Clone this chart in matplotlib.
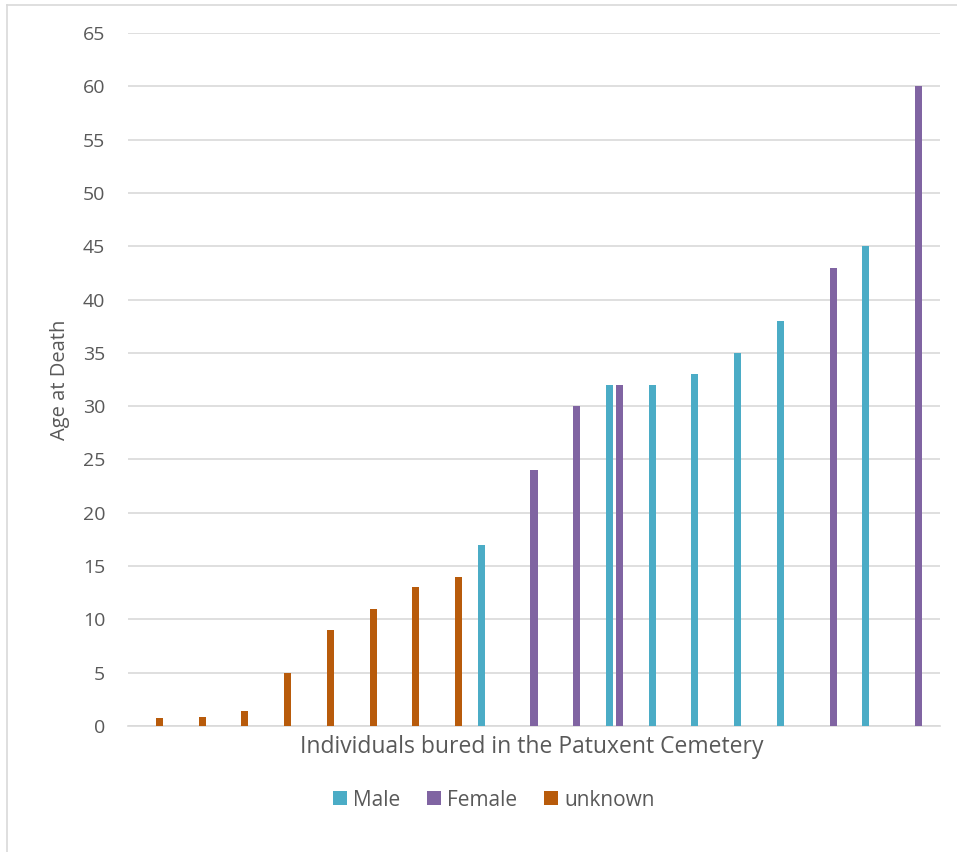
import matplotlib
matplotlib.use("Agg")
import matplotlib.pyplot as plt
import numpy as np
from matplotlib.lines import Line2D
from matplotlib.patches import Patch

categories = list(range(1, 20))
male =    [None, None, None, None, None, None, None, None, 17, None, None, 32, 32, 33, 35, 38, None, 45, None]
female =  [None, None, None, None, None, None, None, None, None, 24, 30, 32, None, None, None, None, 43, None, 60]
unknown = [0.75, 0.8, 1.4, 5, 9, 11, 13, 14, None, None, None, None, None, None, None, None, None, None, None]
series_names = ["Male", "Female", "unknown"]
colors = ["#4BACC6", "#8064A2", "#B85B0B"]

plt.rcParams['font.family'] = ['Open Sans', 'DejaVu Sans']

W, H = 957, 852
fig = plt.figure(figsize=(W/100, H/100), dpi=100)
ax = fig.add_axes([128/W, 1-726/H, (940-128)/W, (726-33)/H])

x = np.arange(len(categories))
offsets = [-0.235, 0.0, 0.235]
width = 0.165
for vals, off, c, name in zip([male, female, unknown], offsets, colors, series_names):
    xs = [xi + off for xi, v in zip(x, vals) if v is not None]
    ys = [v for v in vals if v is not None]
    ax.bar(xs, ys, width=width, color=c, label=name, zorder=3)

ax.set_xlim(-0.5, len(categories) - 0.5)
ax.set_ylim(0, 65)
ax.set_yticks(np.arange(0, 66, 5))
ax.yaxis.grid(True, color="#D9D9D9", linewidth=1.2, zorder=0)
ax.set_xticks([])
for s in ["top", "right", "left"]:
    ax.spines[s].set_visible(False)
ax.spines["bottom"].set_color("#D9D9D9")
ax.spines["bottom"].set_linewidth(1.2)
ax.tick_params(axis="y", length=0, labelsize=14, labelcolor="#595959", pad=16.5)

ax.set_ylabel("Age at Death", fontsize=14.5, color="#595959", labelpad=9)
fig.text(532/W, 1-747/H, "Individuals bured in the Patuxent Cemetery",
         fontsize=16.5, color="#595959", ha="center", va="center")

handles = [Patch(facecolor=c, edgecolor="none") for c in colors]
fig.legend(handles, series_names, loc="center", bbox_to_anchor=(494/W, 1-800/H), ncol=3,
           frameon=False, fontsize=15, labelcolor="#595959", handlelength=0.65, handleheight=0.65,
           handletextpad=0.3, columnspacing=1.3)

fig.add_artist(Line2D([7/W, 7/W], [0, 1-5/H], transform=fig.transFigure, color="#D9D9D9", linewidth=1.2))
fig.add_artist(Line2D([7/W, 1], [1-5/H, 1-5/H], transform=fig.transFigure, color="#D9D9D9", linewidth=1.2))

fig.savefig("out.png", dpi=100, facecolor="white")
